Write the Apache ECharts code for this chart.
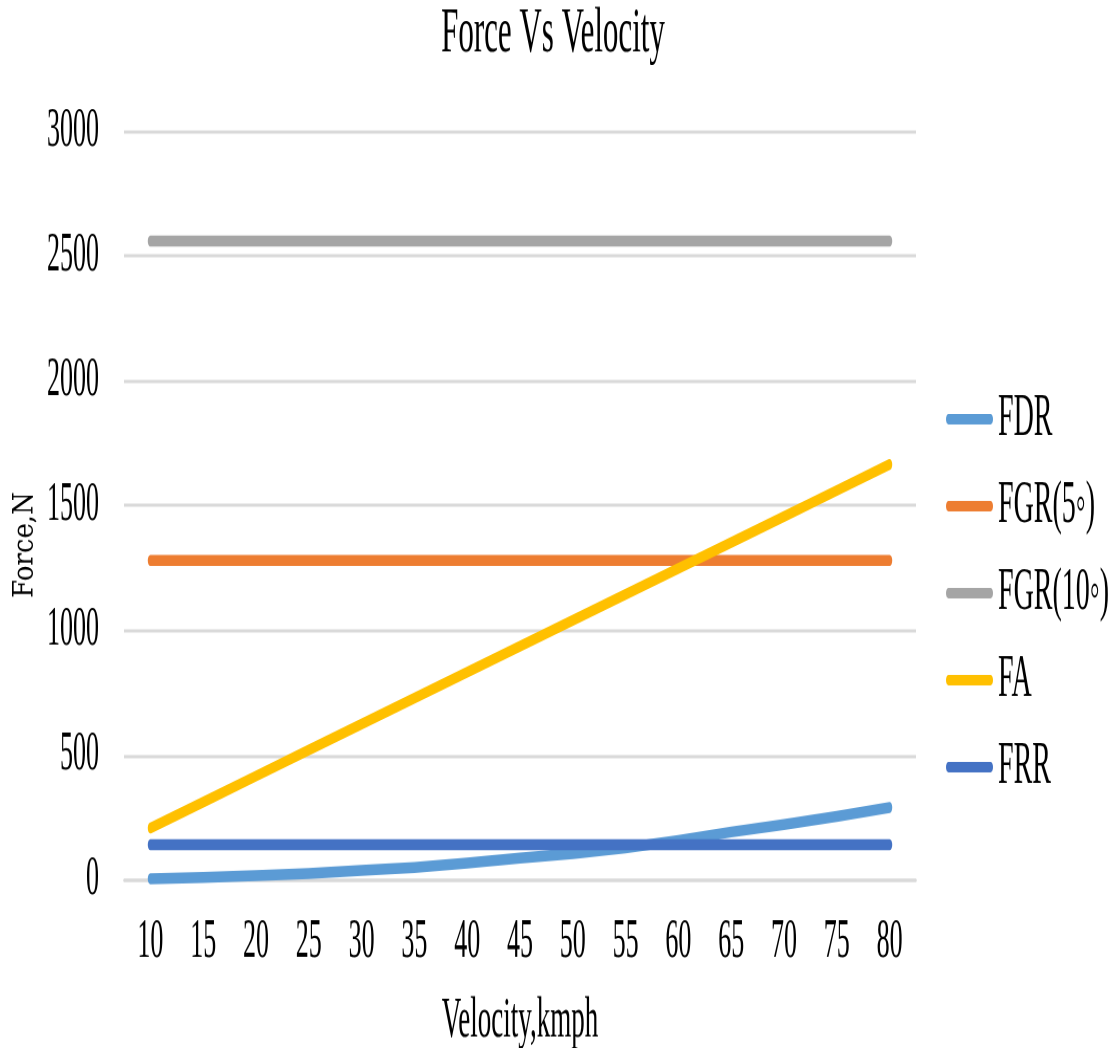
<!DOCTYPE html>
<html>
<head>
<meta charset="utf-8">
<title>Force Vs Velocity</title>
<script src="https://cdn.jsdelivr.net/npm/echarts@6/dist/echarts.min.js"></script>
<style>
  html, body { margin: 0; padding: 0; background: #ffffff; }
  body { width: 1113px; height: 1048px; }
  /* The chart is laid out on a short canvas and stretched vertically,
     giving the tall, narrow lettering of the printed figure. */
  #chart {
    width: 1113px;
    height: 500px;
    transform: scaleY(2.096);
    transform-origin: 0 0;
  }
</style>
</head>
<body>
<div id="chart"></div>
<script>
// Velocity categories (kmph)
const velocity = ['10', '15', '20', '25', '30', '35', '40', '45', '50', '55', '60', '65', '70', '75', '80'];

// Resistive forces in newtons
const fdr    = [5, 10, 17, 26, 38, 50, 68, 88, 105, 128, 158, 192, 222, 254, 290];
const fgr5   = [1280, 1280, 1280, 1280, 1280, 1280, 1280, 1280, 1280, 1280, 1280, 1280, 1280, 1280, 1280];
const fgr10  = [2559, 2559, 2559, 2559, 2559, 2559, 2559, 2559, 2559, 2559, 2559, 2559, 2559, 2559, 2559];
const fa     = [208, 312, 416, 520, 624, 728, 832, 936, 1040, 1144, 1248, 1352, 1456, 1560, 1664];
const frr    = [141, 141, 141, 141, 141, 141, 141, 141, 141, 141, 141, 141, 141, 141, 141];

// Force axis ticks
const forceTicks = { min: 0, max: 3000, interval: 500 };

const seriesNames  = ['FDR', 'FGR(5\u25E6)', 'FGR(10\u25E6)', 'FA', 'FRR'];
const seriesData   = [fdr, fgr5, fgr10, fa, frr];
const seriesColors = ['#5B9BD5', '#ED7D31', '#A5A5A5', '#FFC000', '#4472C4'];

const SERIF = '"Liberation Serif", "Times New Roman", serif';
const STRETCH = 2.096;

const chart = echarts.init(document.getElementById('chart'), null, {
  renderer: 'canvas',
  devicePixelRatio: 2
});

const option = {
  animation: false,
  backgroundColor: '#ffffff',
  color: seriesColors,
  title: {
    text: 'Force Vs Velocity',
    left: 553,
    textAlign: 'center',
    top: 1,
    padding: 0,
    textStyle: {
      fontFamily: SERIF,
      fontSize: 31,
      lineHeight: 31,
      fontWeight: 'normal',
      color: '#000000'
    }
  },
  legend: {
    orient: 'vertical',
    left: 946,
    top: 186,
    padding: 0,
    itemWidth: 47,
    itemHeight: 5,
    itemGap: 13.5,
    icon: 'path://M2.5,0 H44.5 A2.5,2.5 0 0 1 44.5,5 H2.5 A2.5,2.5 0 0 1 2.5,0 Z',
    selectedMode: false,
    textStyle: {
      fontFamily: SERIF,
      fontSize: 28,
      lineHeight: 28,
      color: '#000000'
    },
    data: seriesNames
  },
  grid: {
    left: 124,
    right: 197,
    top: 62.5,
    bottom: 80.2,
    outerBoundsMode: 'none'
  },
  xAxis: {
    type: 'category',
    data: velocity,
    boundaryGap: true,
    name: 'Velocity,kmph',
    nameLocation: 'middle',
    nameGap: 54,
    nameTextStyle: {
      fontFamily: SERIF,
      fontSize: 27,
      color: '#000000'
    },
    axisLine: { show: true, lineStyle: { color: '#d9d9d9', width: 1.6 } },
    axisTick: { show: false },
    axisLabel: {
      margin: 17,
      fontFamily: SERIF,
      fontSize: 26,
      color: '#000000',
      interval: 0
    },
    splitLine: { show: false }
  },
  yAxis: {
    type: 'value',
    min: forceTicks.min,
    max: forceTicks.max,
    interval: forceTicks.interval,
    axisLine: { show: false },
    axisTick: { show: false },
    axisLabel: {
      margin: 25,
      fontFamily: SERIF,
      fontSize: 26,
      color: '#000000',
      formatter: (v) => String(v)
    },
    splitLine: { show: true, lineStyle: { color: '#d9d9d9', width: 1.6 } }
  },
  graphic: [
    {
      // Vertical axis title, rotated to read bottom-to-top
      type: 'text',
      x: 25,
      y: 260,
      rotation: Math.PI / 2,
      scaleX: 0.93 / STRETCH,
      style: {
        text: 'Force,N',
        font: '28px "DejaVu Serif", serif',
        fill: '#000000',
        align: 'center',
        verticalAlign: 'middle'
      }
    }
  ],
  series: seriesNames.map((name, i) => ({
    name: name,
    type: 'line',
    data: seriesData[i],
    smooth: false,
    symbol: 'none',
    showSymbol: false,
    silent: true,
    lineStyle: {
      color: seriesColors[i],
      width: 5.25,
      cap: 'round',
      join: 'round'
    },
    itemStyle: { color: seriesColors[i] },
    emphasis: { disabled: true }
  }))
};

chart.setOption(option);
</script>
</body>
</html>
